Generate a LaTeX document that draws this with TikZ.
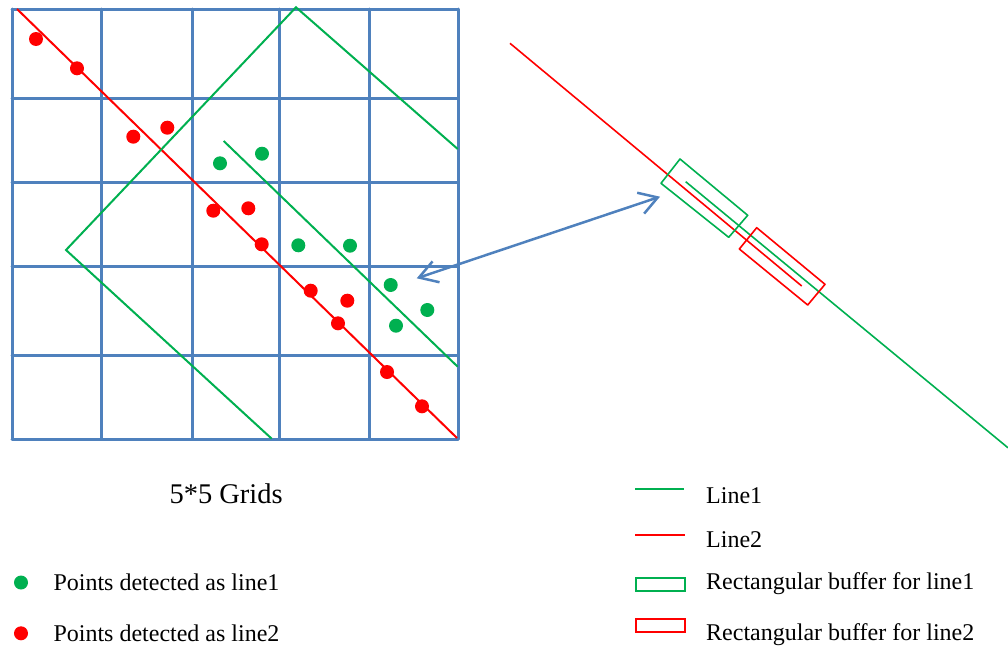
\documentclass[tikz,border=0pt]{standalone}
\usepackage{fontspec}
\setmainfont{Liberation Serif}
\usetikzlibrary{arrows.meta}
\definecolor{gridblue}{RGB}{79,129,189}
\definecolor{lgreen}{RGB}{0,176,80}
\definecolor{lred}{RGB}{255,0,0}
\begin{document}
\begin{tikzpicture}[x=1pt,y=-1pt,
  gridline/.style={draw=gridblue,line width=3pt,line cap=round},
  gline/.style={draw=lgreen,line width=2pt},
  rline/.style={draw=lred,line width=2pt},
  thin gline/.style={draw=lgreen,line width=1.6pt,line join=round},
  thin rline/.style={draw=lred,line width=1.6pt,line join=round},
  gdot/.style={fill=lgreen},
  rdot/.style={fill=lred},
  lab/.style={anchor=base west,inner sep=0pt,font=\fontsize{24}{28}\selectfont},
  ttl/.style={anchor=base west,inner sep=0pt,font=\fontsize{28.5}{32}\selectfont},
  barb/.style={gridblue,line width=2.5pt,line cap=round,line join=round,{Straight Barb[length=18pt,width=22pt]}-{Straight Barb[length=18pt,width=22pt]}}
]
\useasboundingbox (0,0) rectangle (1008,648);

% grid
\foreach \x in {12,101.7,192.3,279.3,369.3,458}
  \draw[gridline] (\x,9) -- (\x,439);
\foreach \y in {9,98.3,182.7,266,355.3,439}
  \draw[gridline] (12,\y) -- (458,\y);

% line 2 in grid
\draw[rline] (17,9) -- (457,438);
% buffer of line 1 (open, cut by the grid edge)
\draw[gline,line join=miter] (457.7,149) -- (296,7.3) -- (66,250) -- (271.7,438.7);
% line 1 in grid
\draw[gline] (223.7,141) -- (457.7,366.7);

% red points
\foreach \p in {(36,39),(77,68.3),(133.3,136.7),(167.3,127.7),(213.3,210.7),(248.3,208.3),(261.7,244.3),(310.7,290.7),(347.3,300.7),(338,323.3),(387,372),(422,406.3)}
  \fill[rdot] \p circle[radius=7pt];
% green points
\foreach \p in {(220,163.3),(262,153.7),(298.3,245.3),(350,245.7),(390.7,285),(427.3,310),(396,325.7)}
  \fill[gdot] \p circle[radius=7pt];

% right part
\draw[thin rline] (510,43.3) -- (801.7,286);
\draw[thin gline] (685.7,181.7) -- (1008,447.8);
\draw[thin gline] (680,159) -- (747.7,215.3) -- (728.7,237.3) -- (661,183.3) -- cycle;
\draw[thin rline] (756.7,227.7) -- (825,284.3) -- (807.7,305) -- (739.3,249) -- cycle;

% double arrow
\coordinate (aL) at (416.7,278.3);
\coordinate (aR) at (660,196.7);
\draw[barb] (aL) -- (aR);

% captions and legend
\node[ttl] (title) at (169.3,503.3) {5*5 Grids};

\fill[gdot] (21,582.5) circle[radius=7pt];
\node[lab] (p1) at (53.3,590) {Points detected as line1};
\fill[rdot] (21,633.3) circle[radius=7pt];
\node[lab] (p2) at (53.3,641.5) {Points detected as line2};

\draw[gline] (635,489) -- (684,489);
\node[lab] (l1) at (706,503.3) {Line1};
\draw[rline] (635,535) -- (685,535);
\node[lab] (l2) at (706,547.3) {Line2};
\draw[draw=lgreen,line width=2pt] (636,578) rectangle (685,591);
\node[lab] (b1) at (706,589.3) {Rectangular buffer for line1};
\draw[draw=lred,line width=2pt] (636,618.5) rectangle (685,631.5);
\node[lab] (b2) at (706,640) {Rectangular buffer for line2};
\end{tikzpicture}
\end{document}
